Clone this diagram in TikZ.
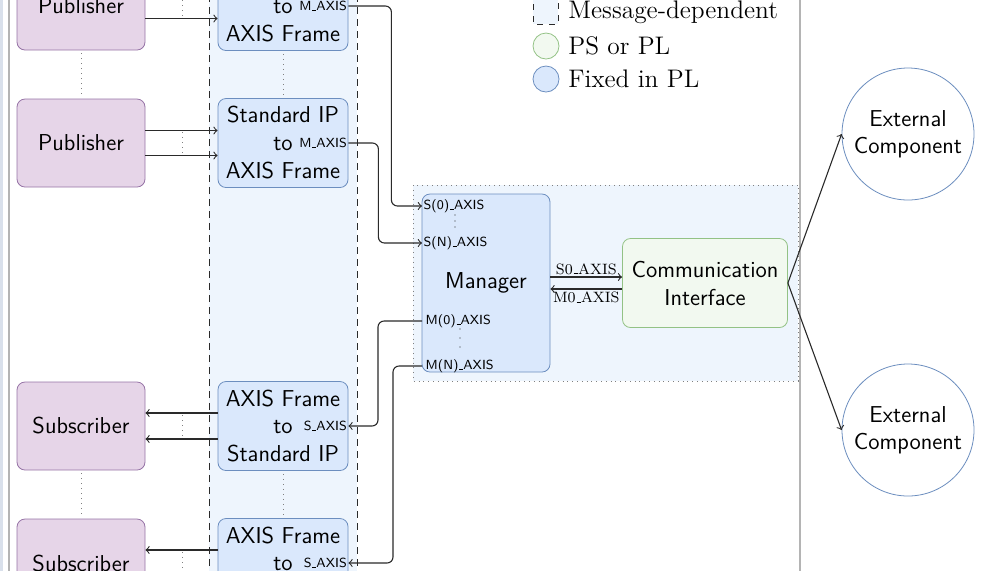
\documentclass[tikz,border=0pt]{standalone}
\usepackage{fontspec}
\usetikzlibrary{calc}
\definecolor{pubfill}{HTML}{E6D5E8}
\definecolor{pubdraw}{HTML}{9673A6}
\definecolor{bluefill}{HTML}{DAE8FC}
\definecolor{bluedraw}{HTML}{6C8EBF}
\definecolor{greenfill}{HTML}{F2F9F0}
\definecolor{greendraw}{HTML}{93C285}
\definecolor{colfill}{HTML}{EEF5FD}
\definecolor{framegray}{HTML}{B4B4B4}
\definecolor{stripcol}{HTML}{D9E0EB}
\definecolor{linecol}{HTML}{2A2A2A}
\newcommand\usc{\leavevmode\kern.06em\vbox{\hrule width.3em height .05em}}
\begin{document}
\begin{tikzpicture}[x=0.5pt,y=-0.5pt,>=to,
  mainfont/.style={font=\fontsize{11.5}{14}\selectfont\sffamily},
  pubbox/.style={mainfont,draw=pubdraw,fill=pubfill,rounded corners=4pt,minimum width=64pt,minimum height=44pt,align=center},
  convbox/.style={mainfont,draw=bluedraw,fill=bluefill,rounded corners=4pt,minimum width=65pt,minimum height=44.5pt,align=center,inner sep=1pt},
  portlbl/.style={font=\fontsize{6.6}{7}\selectfont\sffamily,inner sep=0.6pt},
  wire/.style={draw=linecol,line width=0.55pt},
  gapdots/.style={draw=gray,dotted,line width=0.5pt},
  legtext/.style={font=\fontsize{12.7}{15}\selectfont\rmfamily,anchor=west,inner sep=0pt},
  axislbl/.style={font=\fontsize{7.5}{8}\selectfont\rmfamily,inner sep=1pt}
]
\useasboundingbox (0,0) rectangle (984,570);
% left strip and frame lines
\fill[stripcol] (0,-5) rectangle (3,575);
\draw[framegray,line width=0.6pt] (9,-5) -- (9,575);
\draw[framegray,line width=0.6pt] (800,-5) -- (800,575);
% message-dependent column
\fill[colfill] (209,-5) rectangle (357,575);
\draw[linecol,dash pattern=on 3.5pt off 2.5pt] (209,-5) -- (209,575);
\draw[linecol,dash pattern=on 3.5pt off 2.5pt] (357,-5) -- (357,575);
% manager group box
\draw[gray,dotted,fill=colfill] (413,185) rectangle (798,381);

% publishers / subscribers
\node[pubbox] (pub1) at (81,6) {Publisher};
\node[pubbox] (pub2) at (81,143) {Publisher};
\node[pubbox] (sub1) at (81,426) {Subscriber};
\node[pubbox] (sub2) at (81,563) {Subscriber};

% converters
\node[convbox] (conv1) at (283,6) {Standard IP\\to\\AXIS Frame};
\node[convbox] (conv2) at (283,143) {Standard IP\\to\\AXIS Frame};
\node[convbox] (conv3) at (283,426) {AXIS Frame\\to\\Standard IP};
\node[convbox] (conv4) at (283,563) {AXIS Frame\\to\\Standard IP};
\node[portlbl,anchor=east] (l1) at (conv1.east) {M\usc AXIS};
\node[portlbl,anchor=east] (l2) at (conv2.east) {M\usc AXIS};
\node[portlbl,anchor=east] (l3) at (conv3.east) {S\usc AXIS};
\node[portlbl,anchor=east] (l4) at (conv4.east) {S\usc AXIS};

% manager
\node[convbox,minimum width=64pt,minimum height=89pt] (mgr) at (486,283) {Manager};
\coordinate (ps0) at (422,206);
\coordinate (psn) at (422,243);
\coordinate (pm0) at (422,321);
\coordinate (pmn) at (422,366);
\node[portlbl,anchor=west] (ls0) at (ps0) {S(0)\usc AXIS};
\node[portlbl,anchor=west] (lsn) at (psn) {S(N)\usc AXIS};
\node[portlbl,anchor=west] (lm0) at ([xshift=1pt]pm0) {M(0)\usc AXIS};
\node[portlbl,anchor=west] (lmn) at ([xshift=1pt]pmn) {M(N)\usc AXIS};
\foreach \yy in {215,221,227} \fill[linecol] (455,\yy) circle (0.35pt);
\foreach \yy in {329,338,347} \fill[linecol] (460,\yy) circle (0.35pt);

% communication interface
\node[mainfont,draw=greendraw,fill=greenfill,rounded corners=4pt,minimum width=82.5pt,minimum height=44.5pt,align=center] (ci) at (705,283) {Communication\\Interface};

% external components
\node[circle,draw=bluedraw,fill=white,minimum size=66pt,align=center,inner sep=0pt,font=\fontsize{11.5}{13.5}\selectfont\sffamily] (ext1) at (908,134) {External\\Component};
\node[circle,draw=bluedraw,fill=white,minimum size=66pt,align=center,inner sep=0pt,font=\fontsize{11.5}{13.5}\selectfont\sffamily] (ext2) at (908,430) {External\\Component};

% legend
\draw[linecol,dashed,fill=colfill] (533,-8) rectangle (558,24);
\node[circle,draw=greendraw,fill=greenfill,minimum size=13pt,inner sep=0pt] (lg2) at (546,46) {};
\node[circle,draw=bluedraw,fill=bluefill,minimum size=13pt,inner sep=0pt] (lg3) at (546,79) {};
\node[legtext] (lt1) at (568,12) {Message-dependent};
\node[legtext] (lt2) at (568,46) {PS or PL};
\node[legtext] (lt3) at (568,79) {Fixed in PL};

% publisher -> converter
\foreach \p/\c in {pub1/conv1,pub2/conv2}{
  \draw[wire,->] ([yshift=6.25pt]\p.east) -- ([yshift=6.25pt]\c.west);
  \draw[wire,->] ([yshift=-6.25pt]\p.east) -- ([yshift=-6.25pt]\c.west);
  \draw[gapdots] ($([yshift=5.5pt]\p.east)!0.52!([yshift=5.5pt]\c.west)$) -- ($([yshift=-5.5pt]\p.east)!0.52!([yshift=-5.5pt]\c.west)$);
}
\foreach \p/\c in {sub1/conv3,sub2/conv4}{
  \draw[wire,->] ([yshift=6.5pt]\c.west) -- ([yshift=6.5pt]\p.east);
  \draw[wire,->] ([yshift=-6.5pt]\c.west) -- ([yshift=-6.5pt]\p.east);
  \draw[gapdots] ($([yshift=5.5pt]\p.east)!0.52!([yshift=5.5pt]\c.west)$) -- ($([yshift=-5.5pt]\p.east)!0.52!([yshift=-5.5pt]\c.west)$);
}
% vertical gap dots
\draw[gapdots,shorten <=1.5pt,shorten >=1.5pt] (pub1.south) -- (pub2.north);
\draw[gapdots,shorten <=1.5pt,shorten >=1.5pt] (conv1.south) -- (conv2.north);
\draw[gapdots,shorten <=1.5pt,shorten >=1.5pt] (sub1.south) -- (sub2.north);
\draw[gapdots,shorten <=1.5pt,shorten >=1.5pt] (conv3.south) -- (conv4.north);

% converters <-> manager
\draw[wire,->,rounded corners=3pt] (conv1.east) -- ++(43,0) |- (ps0);
\draw[wire,->,rounded corners=3pt] (conv2.east) -- ++(30,0) |- (psn);
\draw[wire,->,rounded corners=3pt] (pm0) -- ++(-44,0) |- (conv3.east);
\draw[wire,->,rounded corners=3pt] (pmn) -- ++(-29,0) |- (conv4.east);

% manager <-> CI
\draw[wire,->] ([yshift=3pt]mgr.east) -- node[axislbl,above] (ls0ax) {S0\usc AXIS} ([yshift=3pt]ci.west);
\draw[wire,->] ([yshift=-3pt]ci.west) -- node[axislbl,below] (lm0ax) {M0\usc AXIS} ([yshift=-3pt]mgr.east);

% CI -> external
\draw[wire,->] (ci.east) -- (ext1.west);
\draw[wire,->] (ci.east) -- (ext2.west);
\end{tikzpicture}
\end{document}
